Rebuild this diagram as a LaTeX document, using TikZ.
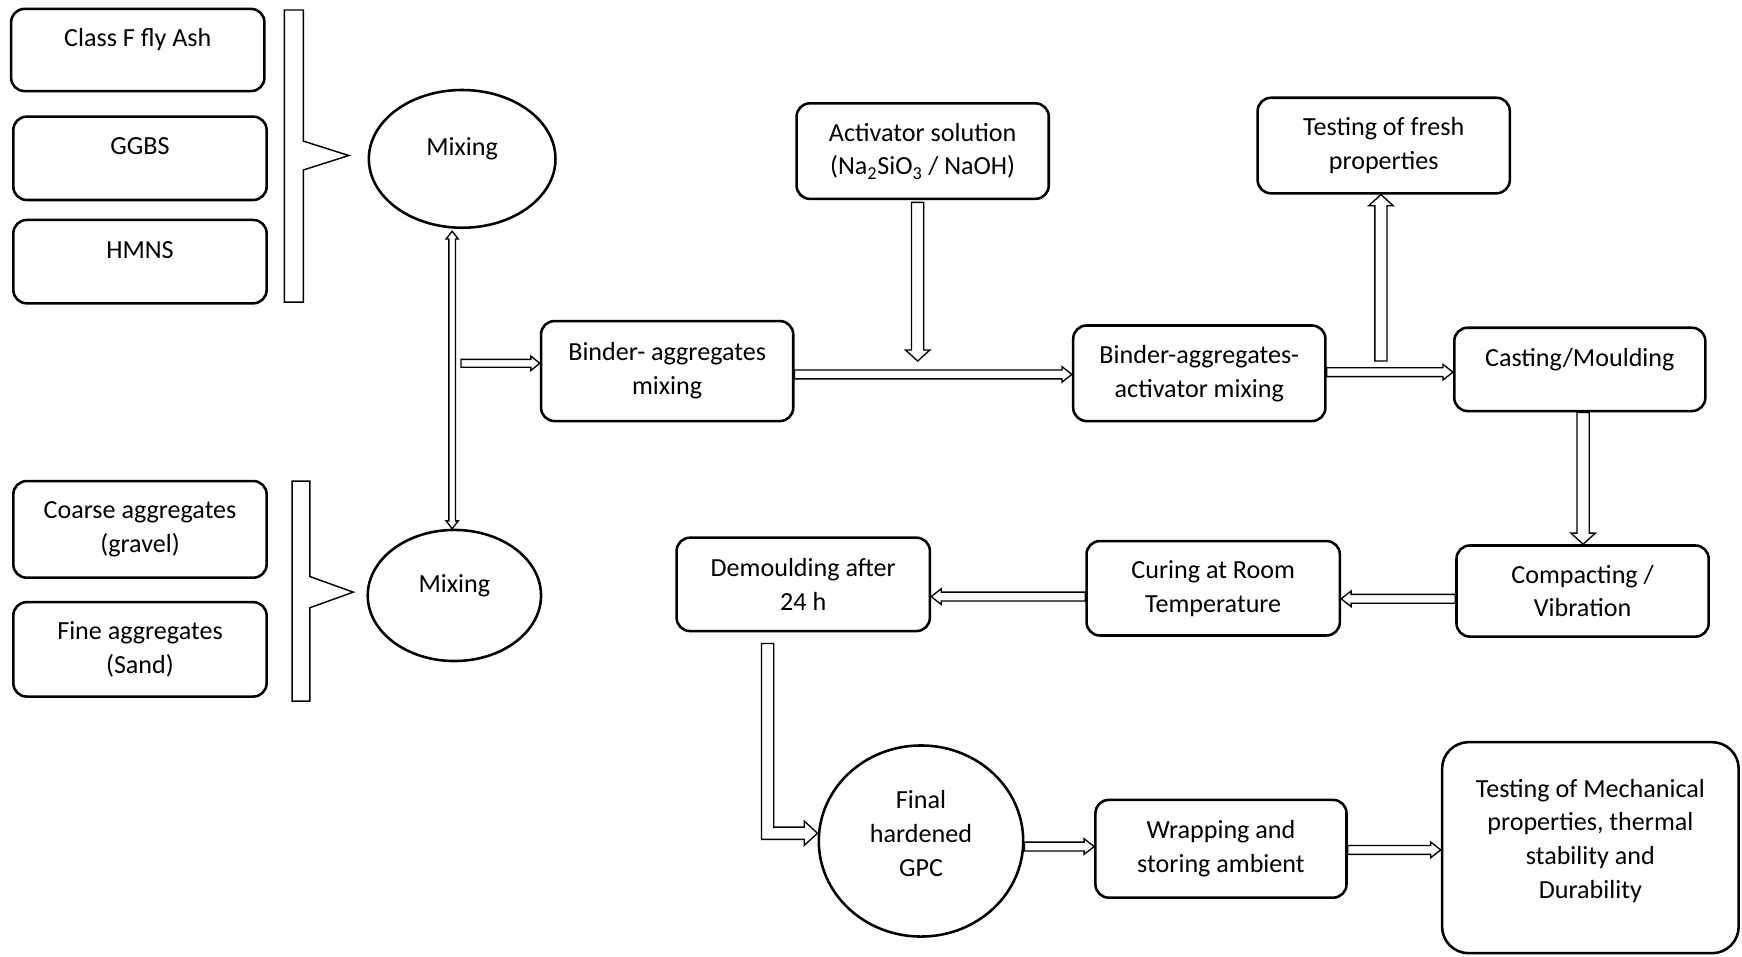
\documentclass[tikz,border=0pt]{standalone}
\usepackage{fontspec}
\setmainfont{Carlito}
\usetikzlibrary{calc,shapes.geometric}
\newcommand\hollowarr[5]{% from, to, shaft half width, head half width, head length
  \path ($(#2)!#5!(#1)$) coordinate (hb);
  \draw[harrow] ($(#1)!#3!90:(#2)$) -- ($(hb)!#3!90:(#2)$) -- ($(hb)!#4!90:(#2)$) -- (#2)
    -- ($(hb)!#4!-90:(#2)$) -- ($(hb)!#3!-90:(#2)$) -- ($(#1)!#3!-90:(#2)$) -- cycle;}
\newcommand\hollowdarr[5]{% double headed
  \path ($(#2)!#5!(#1)$) coordinate (hb) ($(#1)!#5!(#2)$) coordinate (ha);
  \draw[harrow] (#1) -- ($(ha)!#4!90:(#2)$) -- ($(ha)!#3!90:(#2)$) -- ($(hb)!#3!90:(#2)$) -- ($(hb)!#4!90:(#2)$) -- (#2)
    -- ($(hb)!#4!-90:(#2)$) -- ($(hb)!#3!-90:(#2)$) -- ($(ha)!#3!-90:(#2)$) -- ($(ha)!#4!-90:(#2)$) -- cycle;}
\begin{document}
\begin{tikzpicture}[x=1pt,y=-1pt,
  txt/.style={align=center, inner sep=0pt, font=\fontsize{23.5}{30.5}\selectfont},
  box/.style={txt, draw, line width=2.3pt, rounded corners=12pt},
  oval/.style={txt, draw, ellipse, line width=2.3pt},
  uptext/.style={text height=17pt, text depth=23pt},
  harrow/.style={draw, line width=1.2pt, fill=white, line join=miter},
  brk/.style={draw, line width=1.3pt, fill=white, line join=miter}]
\useasboundingbox (0,0) rectangle (1568,861);

% left column
\node[box, uptext, minimum width=228pt, minimum height=74pt] (flyash) at (124,45) {Class F fly Ash};
\node[box, uptext, minimum width=228pt, minimum height=75pt] (ggbs) at (126,142.5) {GGBS};
\node[box, uptext, minimum width=228pt, minimum height=75pt] (hmns) at (126,235.5) {HMNS};
\node[box, minimum width=228pt, minimum height=87pt] (coarse) at (126,476.5) {Coarse aggregates\\(gravel)};
\node[box, minimum width=228pt, minimum height=85pt] (fine) at (126,584.5) {Fine aggregates\\(Sand)};

% brackets
\draw[brk] (256,9) -- (273,9) -- (273,127) -- (314,140) -- (273,153) -- (273,272) -- (256,272) -- cycle;
\draw[brk] (263,433) -- (279,433) -- (279,519) -- (318,533) -- (279,547) -- (279,631) -- (263,631) -- cycle;

% mixing ellipses
\node[oval, uptext, minimum width=168pt, minimum height=124pt] (mix1) at (416,143) {Mixing};
\node[oval, uptext, minimum width=156pt, minimum height=118pt] (mix2) at (409,536) {Mixing};

% process boxes
\node[box, minimum width=227pt, minimum height=90pt] (binder) at (600.5,334) {Binder- aggregates\\mixing};
\node[box, minimum width=227pt, minimum height=86pt] (act) at (830.5,136) {Activator solution\\(Na\textsubscript{2}SiO\textsubscript{3} / NaOH)};
\node[box, minimum width=227pt, minimum height=86pt] (baa) at (1079.5,336) {Binder-aggregates-\\activator mixing};
\node[box, minimum width=227pt, minimum height=86pt] (fresh) at (1245.5,131) {Testing of fresh\\properties};
\node[box, uptext, minimum width=226pt, minimum height=75pt] (cast) at (1422,332.5) {Casting/Moulding};
\node[box, minimum width=227pt, minimum height=82pt] (compact) at (1424.5,532) {Compacting /\\Vibration};
\node[box, minimum width=228pt, minimum height=85pt] (curing) at (1092,529.5) {Curing at Room\\Temperature};
\node[box, minimum width=228pt, minimum height=84pt] (demould) at (723,526) {Demoulding after\\24 h};
\node[oval, minimum width=184pt, minimum height=172pt, text depth=14pt] (final) at (829,757) {Final\\hardened\\GPC};
\node[box, minimum width=226pt, minimum height=88pt] (wrap) at (1099,764) {Wrapping and\\storing ambient};
\node[box, rounded corners=24pt, minimum width=267pt, minimum height=190pt, text depth=16pt] (mech) at (1431.5,763) {Testing of Mechanical\\properties, thermal\\stability and\\Durability};

% connector end points
\coordinate (va) at ($(mix1.south)+(-9,2)$);
\coordinate (vb) at (va |- mix2.north);
\coordinate (bw) at ($(binder.west)+(0,-7)$);
\coordinate (vt) at ($(va |- bw)+(8,0)$);
\coordinate (be) at ($(binder.east)+(0,3)$);
\coordinate (as) at ($(act.south)+(-4.5,2)$);
\coordinate (ae) at ($(as |- be)+(0,-12)$);
\coordinate (bae) at ($(baa.east)+(0,-1)$);
\coordinate (ut) at ($(bae -| fresh.south)+(-2.5,-10)$);
\coordinate (cs) at ($(cast.south)+(3,0)$);
\coordinate (cw) at ($(compact.west)+(0,7)$);
\coordinate (cuw) at ($(curing.west)+(0,7.5)$);
\coordinate (bt) at ($(demould.south)+(-32,10)$);
\coordinate (btip) at ($(final.west)+(0,-7)$);
\coordinate (bc) at (bt |- btip);
\coordinate (fe) at ($(final.east)+(0,5)$);
\coordinate (we) at ($(wrap.east)+(0,1)$);

% connectors
\hollowdarr{va}{vb}{3pt}{5.5pt}{7pt}
\hollowarr{vt}{bw}{3.5pt}{6.5pt}{8pt}
\hollowarr{be}{be -| baa.west}{4pt}{7pt}{9pt}
\hollowarr{as}{ae}{5.5pt}{11pt}{10pt}
\hollowarr{bae}{bae -| cast.west}{4pt}{7pt}{9pt}
\hollowarr{ut}{ut |- fresh.south}{5.5pt}{11pt}{10pt}
\hollowarr{cs}{cs |- compact.north}{5.5pt}{11pt}{10pt}
\hollowarr{cw}{cw -| curing.east}{4pt}{7pt}{9pt}
\hollowarr{cuw}{cuw -| demould.east}{4pt}{7pt}{9pt}
\draw[harrow] ($(bt)+(-5.5,0)$) -- ($(bc)+(-5.5,5.5)$) -- ($(btip)+(-12,5.5)$) -- ($(btip)+(-12,11)$) -- (btip)
  -- ($(btip)+(-12,-11)$) -- ($(btip)+(-12,-5.5)$) -- ($(bc)+(5.5,-5.5)$) -- ($(bt)+(5.5,0)$) -- cycle;
\hollowarr{fe}{fe -| wrap.west}{4pt}{7pt}{9pt}
\hollowarr{we}{we -| mech.west}{4pt}{7pt}{9pt}
\end{tikzpicture}
\end{document}
